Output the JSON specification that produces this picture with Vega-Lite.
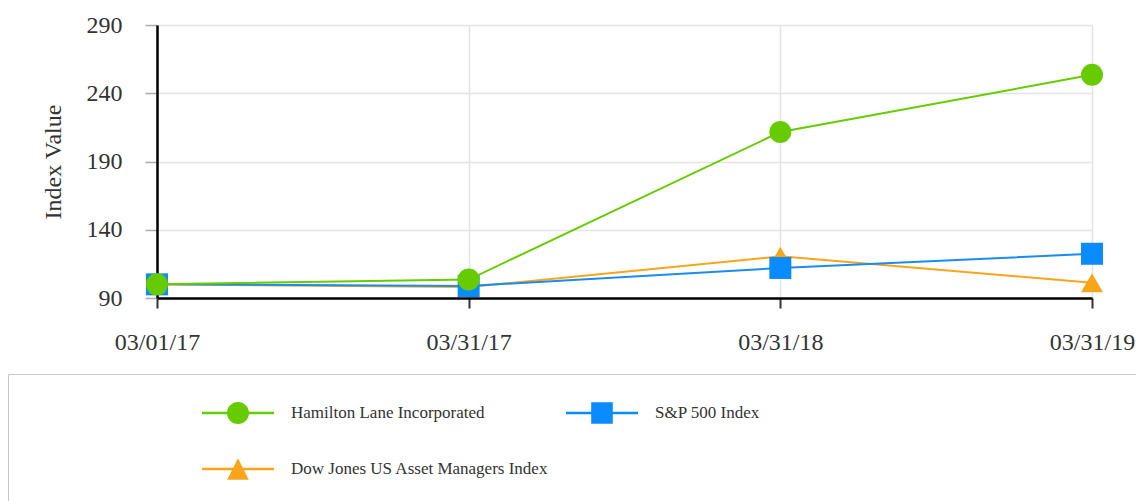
{
  "$schema": "https://vega.github.io/schema/vega-lite/v6.json",
  "width": 935,
  "height": 273,
  "autosize": {"type": "none"},
  "padding": {"left": 157, "top": 25, "right": 44, "bottom": 203},
  "background": "white",
  "config": {
    "view": {"stroke": null},
    "font": "Liberation Serif, Times New Roman, serif"
  },
  "data": {
    "values": [
      {"date": "03/01/17", "series": "Dow Jones US Asset Managers Index", "value": 100},
      {"date": "03/31/17", "series": "Dow Jones US Asset Managers Index", "value": 98},
      {"date": "03/31/18", "series": "Dow Jones US Asset Managers Index", "value": 120.5},
      {"date": "03/31/19", "series": "Dow Jones US Asset Managers Index", "value": 101.2},
      {"date": "03/01/17", "series": "S&P 500 Index", "value": 100},
      {"date": "03/31/17", "series": "S&P 500 Index", "value": 98.8},
      {"date": "03/31/18", "series": "S&P 500 Index", "value": 112},
      {"date": "03/31/19", "series": "S&P 500 Index", "value": 122.4},
      {"date": "03/01/17", "series": "Hamilton Lane Incorporated", "value": 100},
      {"date": "03/31/17", "series": "Hamilton Lane Incorporated", "value": 103.5},
      {"date": "03/31/18", "series": "Hamilton Lane Incorporated", "value": 211.6},
      {"date": "03/31/19", "series": "Hamilton Lane Incorporated", "value": 253.5}
    ]
  },
  "encoding": {
    "x": {
      "field": "date",
      "type": "ordinal",
      "sort": null,
      "scale": {"type": "point", "padding": 0},
      "axis": {
        "title": null,
        "labelAngle": 0,
        "labelFont": "Liberation Serif, Times New Roman, serif",
        "labelFontSize": 24,
        "labelColor": "#333333",
        "labelPadding": 22,
        "tickSize": 10,
        "tickColor": "#333333",
        "tickWidth": 2,
        "domainColor": "#000000",
        "domainWidth": 2.5,
        "grid": true,
        "gridColor": "#e4e4e4",
        "gridWidth": 1.5
      }
    },
    "y": {
      "field": "value",
      "type": "quantitative",
      "scale": {"domain": [90, 290], "nice": false, "zero": false},
      "axis": {
        "title": "Index Value",
        "titleFont": "Liberation Serif, Times New Roman, serif",
        "titleFontSize": 24,
        "titleFontWeight": "normal",
        "titleColor": "#333333",
        "titleAngle": -90,
        "titleAlign": "center",
        "titleBaseline": "alphabetic",
        "titleX": -97,
        "titleY": 136.5,
        "values": [90, 140, 190, 240, 290],
        "labelFont": "Liberation Serif, Times New Roman, serif",
        "labelFontSize": 24,
        "labelColor": "#333333",
        "labelPadding": 23,
        "tickSize": 12,
        "tickColor": "#aaaaaa",
        "tickWidth": 1.5,
        "domainColor": "#000000",
        "domainWidth": 2.5,
        "grid": true,
        "gridColor": "#e4e4e4",
        "gridWidth": 1.5
      }
    }
  },
  "layer": [
    {
      "transform": [{"filter": "datum.value < 0"}],
      "mark": {"type": "point", "filled": true, "opacity": 1},
      "encoding": {
        "color": {
          "field": "series",
          "type": "nominal",
          "scale": {
            "domain": ["Hamilton Lane Incorporated", "S&P 500 Index", "Dow Jones US Asset Managers Index"],
            "range": ["#66cc00", "#0a8cff", "#f9a51b"]
          },
          "legend": {
            "orient": "none",
            "direction": "horizontal",
            "legendX": -149,
            "legendY": 349,
            "columns": 2,
            "title": "\u00a0",
            "titleOrient": "left",
            "titleFontSize": 10,
            "titlePadding": 167,
            "padding": 27,
            "strokeColor": "#c8c8c8",
            "fillColor": "#ffffff",
            "symbolSize": 5184,
            "symbolStrokeWidth": 0,
            "symbolOpacity": 1,
            "clipHeight": 24,
            "labelFont": "Liberation Serif, Times New Roman, serif",
            "labelFontSize": 17,
            "labelColor": "#333333",
            "labelOffset": 17,
            "labelLimit": 1200,
            "rowPadding": 32,
            "columnPadding": 17,
            "labelExpr": "datum.label == 'S&P 500 Index' ? pad(datum.label, 97, '\u00a0') + '\u200b' : datum.label"
          }
        },
        "shape": {
          "field": "series",
          "type": "nominal",
          "scale": {
            "domain": ["Hamilton Lane Incorporated", "S&P 500 Index", "Dow Jones US Asset Managers Index"],
            "range": [
              "M-1,-0.035H1V0.035H-1Z M-0.306,0A0.306,0.306 0 1,1 0.306,0A0.306,0.306 0 1,1 -0.306,0Z",
              "M-1,-0.035H1V0.035H-1Z M-0.3,-0.3H0.3V0.3H-0.3Z",
              "M-1,-0.035H1V0.035H-1Z M0,-0.3L0.3,0.3L-0.3,0.3Z"
            ]
          },
          "legend": {
            "orient": "none",
            "direction": "horizontal",
            "legendX": -149,
            "legendY": 349,
            "columns": 2,
            "title": "\u00a0",
            "titleOrient": "left",
            "titleFontSize": 10,
            "titlePadding": 167,
            "padding": 27,
            "strokeColor": "#c8c8c8",
            "fillColor": "#ffffff",
            "symbolSize": 5184,
            "symbolStrokeWidth": 0,
            "symbolOpacity": 1,
            "clipHeight": 24,
            "labelFont": "Liberation Serif, Times New Roman, serif",
            "labelFontSize": 17,
            "labelColor": "#333333",
            "labelOffset": 17,
            "labelLimit": 1200,
            "rowPadding": 32,
            "columnPadding": 17,
            "labelExpr": "datum.label == 'S&P 500 Index' ? pad(datum.label, 97, '\u00a0') + '\u200b' : datum.label"
          }
        }
      }
    },
    {
      "mark": {"type": "line", "strokeWidth": 2},
      "encoding": {
        "stroke": {
          "field": "series",
          "type": "nominal",
          "scale": {
            "domain": ["Hamilton Lane Incorporated", "S&P 500 Index", "Dow Jones US Asset Managers Index"],
            "range": ["#66cc00", "#1a8cf0", "#f9a51b"]
          },
          "legend": null
        }
      }
    },
    {
      "transform": [{"filter": "datum.series == 'Dow Jones US Asset Managers Index'"}],
      "mark": {"type": "point", "shape": "triangle-up", "filled": true, "size": 484, "opacity": 1, "color": "#f9a51b"}
    },
    {
      "transform": [{"filter": "datum.series == 'S&P 500 Index'"}],
      "mark": {"type": "point", "shape": "square", "filled": true, "size": 484, "opacity": 1, "color": "#0a8cff"}
    },
    {
      "transform": [{"filter": "datum.series == 'Hamilton Lane Incorporated'"}],
      "mark": {"type": "point", "shape": "circle", "filled": true, "size": 484, "opacity": 1, "color": "#66cc00"}
    }
  ]
}
